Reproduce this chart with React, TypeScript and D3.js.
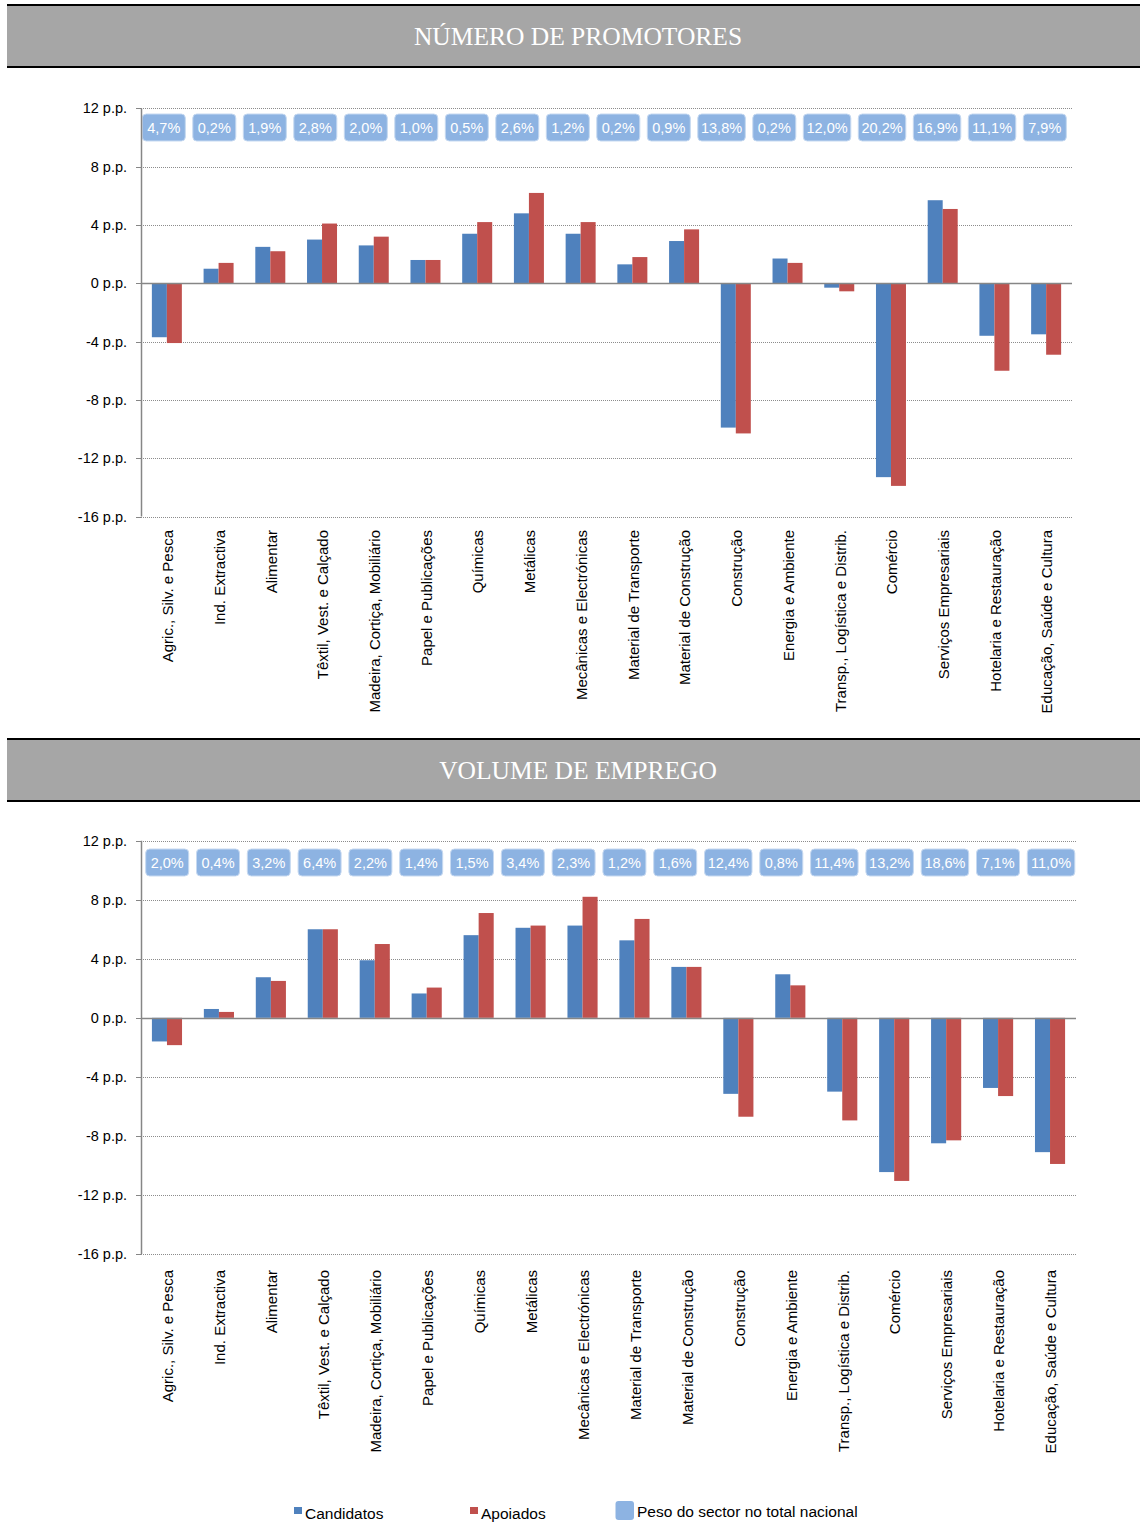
import { useEffect, useRef } from 'react'
import * as d3 from 'd3'

const sectors = [
  'Agric., Silv. e Pesca',
  'Ind. Extractiva',
  'Alimentar',
  'Têxtil, Vest. e Calçado',
  'Madeira, Cortiça, Mobiliário',
  'Papel e Publicações',
  'Químicas',
  'Metálicas',
  'Mecânicas e Electrónicas',
  'Material de Transporte',
  'Material de Construção',
  'Construção',
  'Energia e Ambiente',
  'Transp., Logística e Distrib.',
  'Comércio',
  'Serviços Empresariais',
  'Hotelaria e Restauração',
  'Educação, Saúde e Cultura',
]

const promotoresCandidatos = [-3.7, 1.0, 2.5, 3.0, 2.6, 1.6, 3.4, 4.8, 3.4, 1.3, 2.9, -9.9, 1.7, -0.3, -13.3, 5.7, -3.6, -3.5]
const promotoresApoiados = [-4.1, 1.4, 2.2, 4.1, 3.2, 1.6, 4.2, 6.2, 4.2, 1.8, 3.7, -10.3, 1.4, -0.55, -13.9, 5.1, -6.0, -4.9]
const promotoresPeso = ['4,7%', '0,2%', '1,9%', '2,8%', '2,0%', '1,0%', '0,5%', '2,6%', '1,2%', '0,2%', '0,9%', '13,8%', '0,2%', '12,0%', '20,2%', '16,9%', '11,1%', '7,9%']

const empregoCandidatos = [-1.6, 0.6, 2.75, 6.0, 3.9, 1.65, 5.6, 6.1, 6.25, 5.25, 3.45, -5.15, 2.95, -5.0, -10.45, -8.5, -4.75, -9.1]
const empregoApoiados = [-1.85, 0.4, 2.5, 6.0, 5.0, 2.05, 7.1, 6.25, 8.2, 6.7, 3.45, -6.7, 2.2, -6.95, -11.05, -8.3, -5.3, -9.9]
const empregoPeso = ['2,0%', '0,4%', '3,2%', '6,4%', '2,2%', '1,4%', '1,5%', '3,4%', '2,3%', '1,2%', '1,6%', '12,4%', '0,8%', '11,4%', '13,2%', '18,6%', '7,1%', '11,0%']

const yTicks = [12, 8, 4, 0, -4, -8, -12, -16]
const seriesNames = ['Candidatos', 'Apoiados']
const pesoLabel = 'Peso do sector no total nacional'

const BLUE = '#4f81bd'
const RED = '#c0504d'
const BADGE = '#8db3e2'
const SANS = '"Liberation Sans", Arial, sans-serif'
const SERIF = '"Liberation Serif", "Times New Roman", serif'

function drawPanel(svg, p) {
  const g = svg.append('g')

  // header band
  g.append('rect').attr('x', 7).attr('y', p.headerTop).attr('width', 1133).attr('height', 62).attr('fill', '#a6a6a6')
  g.append('rect').attr('x', 7).attr('y', p.headerTop - 2).attr('width', 1133).attr('height', 2).attr('fill', '#000')
  g.append('rect').attr('x', 7).attr('y', p.headerTop + 60).attr('width', 1133).attr('height', 2).attr('fill', '#000')
  g.append('text')
    .attr('x', 578)
    .attr('y', p.headerTop + 39)
    .attr('text-anchor', 'middle')
    .style('font-family', SERIF)
    .style('font-size', '25.5px')
    .style('fill', '#fff')
    .text(p.title)

  const x = d3.scaleBand().domain(sectors).range([p.left, p.right]).paddingInner(0.42).paddingOuter(0.21)
  const x1 = d3.scaleBand().domain(seriesNames).range([0, x.bandwidth()])
  const y = d3.scaleLinear().domain([-16, 12]).range([p.bottom, p.top])

  // gridlines
  g.append('g')
    .selectAll('line')
    .data(yTicks.filter((t) => t !== 0))
    .join('line')
    .attr('x1', p.left)
    .attr('x2', p.right)
    .attr('y1', (d) => Math.round(y(d)) + 0.5)
    .attr('y2', (d) => Math.round(y(d)) + 0.5)
    .attr('stroke', '#8c8c8c')
    .attr('stroke-dasharray', '1,1')

  // tick labels
  g.append('g')
    .selectAll('text')
    .data(yTicks)
    .join('text')
    .attr('x', p.left - 14)
    .attr('y', (d) => y(d))
    .attr('dy', '0.35em')
    .attr('text-anchor', 'end')
    .style('font-family', SANS)
    .style('font-size', '14.5px')
    .style('fill', '#000')
    .text((d) => `${d} p.p.`)

  g.append('g')
    .selectAll('line')
    .data(yTicks)
    .join('line')
    .attr('x1', p.left - 5)
    .attr('x2', p.left)
    .attr('y1', (d) => Math.round(y(d)) + 0.5)
    .attr('y2', (d) => Math.round(y(d)) + 0.5)
    .attr('stroke', '#868686')

  // badges (packed left to right)
  const widths = p.peso.map((s) => (s.length > 4 ? 47.5 : 43))
  const starts = widths.map((_, i) => p.badgeStart + d3.sum(widths.slice(0, i)) + i * p.badgeGap)
  const badges = g.append('g').selectAll('g').data(p.peso).join('g')
  badges
    .append('rect')
    .attr('x', (_, i) => starts[i])
    .attr('y', p.badgeTop)
    .attr('width', (_, i) => widths[i])
    .attr('height', 27)
    .attr('rx', 4)
    .attr('fill', BADGE)
    .attr('stroke', '#c6d9f1')
    .attr('stroke-width', 1)
  badges
    .append('text')
    .attr('x', (_, i) => starts[i] + widths[i] / 2)
    .attr('y', p.badgeTop + 13.5)
    .attr('dy', '0.35em')
    .attr('text-anchor', 'middle')
    .style('font-family', SANS)
    .style('font-size', '14.5px')
    .style('fill', '#fff')
    .text((d) => d)

  // bars
  const rows = sectors.map((s, i) => ({ s, vals: [p.cand[i], p.apo[i]] }))
  g.append('g')
    .selectAll('g')
    .data(rows)
    .join('g')
    .attr('transform', (d) => `translate(${x(d.s)},0)`)
    .selectAll('rect')
    .data((d) => d.vals.map((v, k) => ({ v, k })))
    .join('rect')
    .attr('x', (d) => x1(seriesNames[d.k]))
    .attr('y', (d) => y(Math.max(0, d.v)))
    .attr('width', x1.bandwidth())
    .attr('height', (d) => Math.abs(y(d.v) - y(0)))
    .attr('fill', (d) => (d.k === 0 ? BLUE : RED))

  // axis + zero line
  g.append('line')
    .attr('x1', p.left)
    .attr('x2', p.right)
    .attr('y1', Math.round(y(0)) + 0.5)
    .attr('y2', Math.round(y(0)) + 0.5)
    .attr('stroke', '#868686')
    .attr('stroke-width', 1.5)
  g.append('line')
    .attr('x1', p.left + 0.5)
    .attr('x2', p.left + 0.5)
    .attr('y1', y(12))
    .attr('y2', y(-16))
    .attr('stroke', '#868686')
    .attr('stroke-width', 1.5)

  // category labels
  g.append('g')
    .selectAll('text')
    .data(sectors)
    .join('text')
    .attr('transform', (d) => `translate(${(x(d) || 0) + x.bandwidth() / 2 + 1},${p.labelTop}) rotate(-90)`)
    .attr('dy', '0.35em')
    .attr('text-anchor', 'end')
    .style('font-family', SANS)
    .style('font-size', '15px')
    .style('fill', '#000')
    .text((d) => d)
}

export default function App() {
  const ref = useRef(null)

  useEffect(() => {
    if (!ref.current) return
    d3.select(ref.current).selectAll('*').remove()
    const svg = d3.select(ref.current).append('svg').attr('width', 1140).attr('height', 1530)
    svg.append('rect').attr('width', 1140).attr('height', 1530).attr('fill', '#fff')

    drawPanel(svg, {
      title: 'NÚMERO DE PROMOTORES',
      headerTop: 6,
      left: 141,
      right: 1072,
      top: 108.4,
      bottom: 516.5,
      cand: promotoresCandidatos,
      apo: promotoresApoiados,
      peso: promotoresPeso,
      badgeStart: 142.3,
      badgeGap: 7.5,
      badgeTop: 114,
      labelTop: 530,
    })

    drawPanel(svg, {
      title: 'VOLUME DE EMPREGO',
      headerTop: 740,
      left: 141,
      right: 1076,
      top: 840.7,
      bottom: 1254,
      cand: empregoCandidatos,
      apo: empregoApoiados,
      peso: empregoPeso,
      badgeStart: 145.7,
      badgeGap: 7.8,
      badgeTop: 849,
      labelTop: 1270,
    })

    // legend
    const legend = svg.append('g').style('font-family', SANS).style('font-size', '15.5px')
    const items = [
      { name: seriesNames[0], color: BLUE, x: 294 },
      { name: seriesNames[1], color: RED, x: 470 },
    ]
    items.forEach((it) => {
      legend.append('rect').attr('x', it.x).attr('y', 1507).attr('width', 8).attr('height', 7).attr('fill', it.color)
      legend.append('text').attr('x', it.x + 11).attr('y', 1519).text(it.name)
    })
    legend
      .append('rect')
      .attr('x', 615.5)
      .attr('y', 1501)
      .attr('width', 18.5)
      .attr('height', 19)
      .attr('rx', 3)
      .attr('fill', BADGE)
    legend.append('text').attr('x', 637).attr('y', 1517).text(pesoLabel)
  }, [])

  return <div ref={ref} style={{ position: 'absolute', left: 0, top: 0, width: 1140, height: 1530 }} />
}
